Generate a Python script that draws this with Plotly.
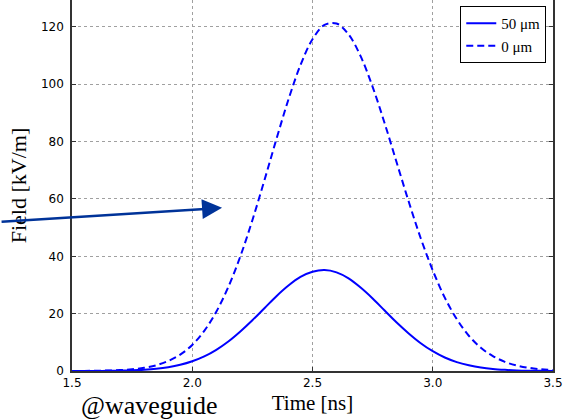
import plotly.graph_objects as go

time_ns = [1.5, 1.55, 1.6, 1.65, 1.7, 1.75, 1.8, 1.85, 1.9, 1.95,
           2.0, 2.05, 2.1, 2.15, 2.2, 2.25, 2.3, 2.35, 2.4, 2.45,
           2.5, 2.55, 2.6, 2.65, 2.7, 2.75, 2.8, 2.85, 2.9, 2.95,
           3.0, 3.05, 3.1, 3.15, 3.2, 3.25, 3.3, 3.35, 3.4, 3.45, 3.5]

field_50um = [0.0, 0.01, 0.03, 0.06, 0.13, 0.24, 0.45, 0.79, 1.33, 2.17,
              3.4, 5.1, 7.4, 10.3, 13.8, 17.7, 21.9, 26.1, 29.8, 32.8,
              34.6, 35.2, 34.4, 32.3, 29.1, 25.3, 21.1, 16.9, 13.1, 9.7,
              6.9, 4.7, 3.1, 2.0, 1.2, 0.7, 0.4, 0.2, 0.1, 0.05, 0.02]

field_0um = [0.0, 0.03, 0.08, 0.16, 0.31, 0.61, 1.13, 2.0, 3.5, 5.7,
             9.1, 14.0, 20.7, 29.3, 40.0, 52.6, 66.5, 80.9, 94.7, 106.7,
             115.7, 120.7, 121.2, 117.4, 109.8, 99.1, 86.4, 72.7, 59.1, 46.3,
             35.1, 25.6, 18.1, 12.3, 8.1, 5.2, 3.2, 1.9, 1.1, 0.6, 0.3]

x_ticks = [1.5, 2.0, 2.5, 3.0, 3.5]
y_ticks = [0, 20, 40, 60, 80, 100, 120]

fig = go.Figure()
fig.add_trace(go.Scatter(x=time_ns, y=field_50um, mode="lines", name="50 μm",
                         line=dict(color="#0000ff", width=2, shape="spline")))
fig.add_trace(go.Scatter(x=time_ns, y=field_0um, mode="lines", name="0 μm",
                         line=dict(color="#0000ff", width=2, shape="spline", dash="7px,4px")))

serif = "Liberation Serif"
fig.update_layout(
    width=564, height=419,
    margin=dict(l=72, r=11, t=0, b=48),
    paper_bgcolor="white", plot_bgcolor="white",
    showlegend=True,
    legend=dict(x=0.986, y=0.984, xanchor="right", yanchor="top",
                bgcolor="white", bordercolor="black", borderwidth=1,
                font=dict(family=serif, size=15, color="black"),
                tracegroupgap=2),
    xaxis=dict(range=[1.5, 3.5], tickvals=x_ticks, tickformat=".1f",
               showgrid=True, gridcolor="#a0a0a0", griddash="dot", gridwidth=1,
               zeroline=False, showline=True, linecolor="#333333", linewidth=1.5,
               ticks="inside", ticklen=4, tickcolor="#333333",
               tickfont=dict(family="DejaVu Sans", size=12, color="black"),
               title=dict(text="Time [ns]", font=dict(family=serif, size=21, color="black"),
                          standoff=6)),
    yaxis=dict(range=[0, 129.4], tickvals=y_ticks,
               showgrid=True, gridcolor="#a0a0a0", griddash="dot", gridwidth=1,
               zeroline=False, showline=True, mirror="ticks", linecolor="#333333", linewidth=1.5,
               ticks="inside", ticklen=4, tickcolor="#333333", ticklabelstandoff=4,
               tickfont=dict(family="DejaVu Sans", size=12, color="black"),
               title=dict(text="Field [kV/m]", font=dict(family=serif, size=22, color="black"),
                          standoff=8)),
)

fig.add_annotation(x=2.124, y=56.9, xref="x", yref="y", ax=-222, ay=14,
                   axref="pixel", ayref="pixel", text="", showarrow=True,
                   arrowhead=2, arrowsize=1.6, arrowwidth=2.5, arrowcolor="#003399")

fig.add_annotation(x=(80 - 72) / 481, y=-50 / 371, xref="paper", yref="paper",
                   xanchor="left", yanchor="bottom", borderpad=0,
                   text="@waveguide", showarrow=False,
                   font=dict(family=serif, size=26, color="black"))

fig.write_html("out.html")
